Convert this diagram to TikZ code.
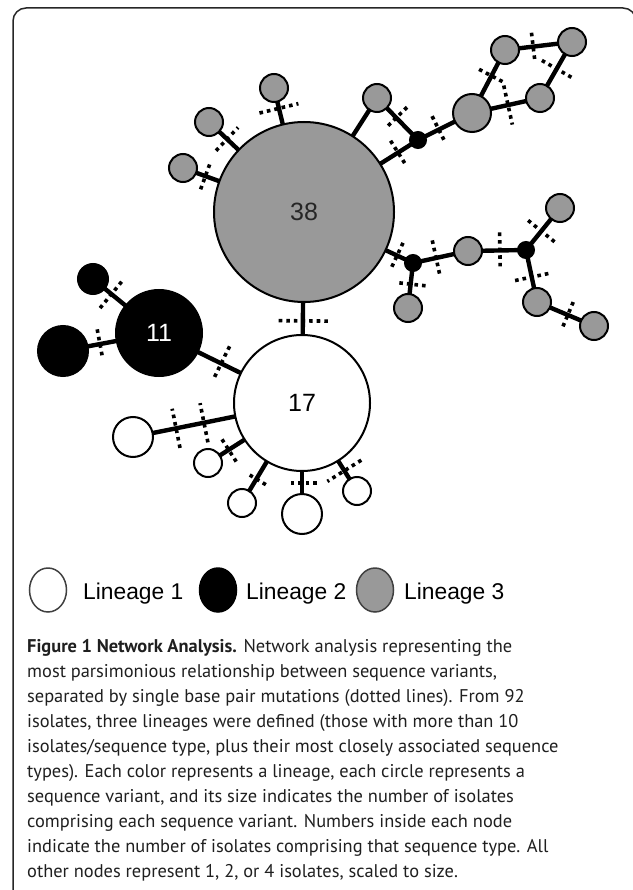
\documentclass[tikz,border=0pt]{standalone}
\usepackage{fontspec}
\setmainfont{Liberation Sans}
\newfontfamily\capfont{PT Sans}
\usetikzlibrary{calc,shapes.geometric}
\definecolor{nodegray}{RGB}{153,153,153}
\tikzset{
  nd/.style={circle, draw=black, line width=2pt, inner sep=0pt, outer sep=0pt, minimum size=#1},
  gnode/.style={nd=#1, fill=nodegray},
  bnode/.style={nd=#1, fill=black},
  wnode/.style={nd=#1, fill=white},
  numlabel/.style={font=\fontsize{25}{30}\selectfont},
  edgeline/.style={line width=4.4pt, black},
  mutline/.style={line width=3.6pt, dash pattern=on 3.6pt off 4pt, black},
  legtext/.style={anchor=base west, inner sep=0pt, font=\fontsize{22.8}{28}\selectfont},
  legmark/.style={ellipse, line width=1.5pt, inner sep=0pt, minimum width=37pt, minimum height=44pt},
}
\newcommand\mut[4]{\draw[mutline] ($(#1)!#3!(#2)!#4!90:(#2)$) -- ($(#1)!#3!(#2)!#4!-90:(#2)$);}
\begin{document}
\begin{tikzpicture}[x=1pt,y=-1pt]
\useasboundingbox (0,0) rectangle (632,890);
% frame
\draw[line width=1.5pt, black!85, rounded corners=13pt] (13,900) -- (13,8) -- (636,8) -- (636,60);

% lineage 3 (gray)
\node[gnode=180pt, numlabel, text=black!85] (n38) at (304,212) {38};
\node[gnode=28pt] (gA) at (183,168) {};
\node[gnode=28pt] (gB) at (209,122) {};
\node[gnode=28pt] (gC) at (274,88) {};
\node[gnode=28pt] (gD) at (377,98) {};
\node[gnode=38pt] (gE) at (472,113) {};
\node[gnode=28pt] (gF) at (505,50) {};
\node[gnode=28pt] (gG) at (572,42) {};
\node[gnode=28pt] (gH) at (540,98) {};
\node[gnode=28pt] (gI) at (468,251) {};
\node[gnode=28pt] (gK) at (560,208) {};
\node[gnode=28pt] (gL) at (537,302) {};
\node[gnode=28pt] (gM) at (594,326) {};
\node[gnode=28pt] (gN) at (408,308) {};
\node[bnode=16pt] (j1) at (418,140) {};
\node[bnode=16pt] (j2) at (413,263) {};
\node[bnode=16pt] (j3) at (526,250) {};
% lineage 2 (black)
\node[bnode=86pt, numlabel, text=white] (n11) at (159,333) {11};
\node[bnode=30pt] (bA) at (93,279) {};
\node[bnode=50pt] (bB) at (63,351) {};
% lineage 1 (white)
\node[wnode=136pt, numlabel] (n17) at (302,403) {17};
\node[wnode=40pt] (wA) at (133,437) {};
\node[wnode=28pt] (wB) at (208,463) {};
\node[wnode=28pt] (wC) at (242,503) {};
\node[wnode=40pt] (wD) at (302,514) {};
\node[wnode=28pt] (wE) at (357,491) {};

% connectors
\draw[edgeline] (n38) -- (n17);
\draw[edgeline] (n11) -- (n17);
\draw[edgeline] (n11) -- (bA);
\draw[edgeline] (n11) -- (bB);
\foreach \w in {wA,wB,wC,wD,wE} \draw[edgeline] (n17) -- (\w);
\foreach \g in {gA,gB,gC,gD,j1,j2} \draw[edgeline] (n38) -- (\g);
\draw[edgeline] (gD) -- (j1);
\draw[edgeline] (j1) -- (gE);
\draw[edgeline] (gE) -- (gF);
\draw[edgeline] (gF) -- (gG);
\draw[edgeline] (gG) -- (gH);
\draw[edgeline] (gH) -- (gE);
\draw[edgeline] (j2) -- (gI);
\draw[edgeline] (j2) -- (gN);
\draw[edgeline] (gI) -- (j3);
\draw[edgeline] (j3) -- (gK);
\draw[edgeline] (j3) -- (gL);
\draw[edgeline] (gL) -- (gM);

% mutations (dotted)
\mut{n38}{n17}{0.57}{25pt}
\mut{n11}{n17}{0.435}{19pt}
\mut{n11}{bA}{0.72}{18pt}
\mut{bB}{n11}{0.385}{15pt}
\mut{n17}{wA}{0.58}{20pt}
\mut{n17}{wA}{0.745}{20pt}
\mut{n17}{wB}{0.78}{14pt}
\mut{n17}{wC}{0.76}{11pt}
\mut{n17}{wD}{0.72}{15pt}
\mut{n17}{wE}{0.77}{20pt}
\mut{n38}{gA}{0.815}{14pt}
\mut{n38}{gB}{0.81}{16pt}
\mut{n38}{gC}{0.836}{20pt}
\mut{n38}{j1}{0.825}{14pt}
\mut{gD}{j1}{0.47}{15pt}
\mut{j1}{gE}{0.385}{15pt}
\mut{gE}{gF}{0.59}{14pt}
\mut{gE}{gH}{0.53}{20pt}
\mut{gF}{gG}{0.42}{14pt}
\mut{gG}{gH}{0.48}{17pt}
\mut{n38}{j2}{0.854}{14pt}
\mut{j2}{gN}{0.47}{15pt}
\mut{j2}{gI}{0.42}{18pt}
\mut{gI}{j3}{0.55}{18pt}
\mut{j3}{gK}{0.45}{17pt}
\mut{j3}{gL}{0.52}{17pt}
\mut{gL}{gM}{0.54}{14pt}

% legend
\node[legmark, draw=black!75, fill=white] (lw) at (48,590) {};
\node[legtext] (lt1) at (83,599) {Lineage 1};
\node[legmark, draw=black, fill=black] (lb) at (218,590) {};
\node[legtext] (lt2) at (246,599) {Lineage 2};
\node[legmark, draw=black!75, fill=nodegray] (lg) at (375,590) {};
\node[legtext] (lt3) at (404,599) {Lineage 3};

% caption (anchor base = baseline of the last line)
\node[anchor=base west, align=left, inner sep=0pt, text=black!88,
      font=\capfont\fontsize{18.4}{25}\selectfont] (cap) at (27,877)
{\textbf{Figure 1 Network Analysis.} Network analysis representing the\\
most parsimonious relationship between sequence variants,\\
separated by single base pair mutations (dotted lines). From 92\\
isolates, three lineages were defined (those with more than 10\\
isolates/sequence type, plus their most closely associated sequence\\
types). Each color represents a lineage, each circle represents a\\
sequence variant, and its size indicates the number of isolates\\
comprising each sequence variant. Numbers inside each node\\
indicate the number of isolates comprising that sequence type. All\\
other nodes represent 1, 2, or 4 isolates, scaled to size.};
\end{tikzpicture}
\end{document}
